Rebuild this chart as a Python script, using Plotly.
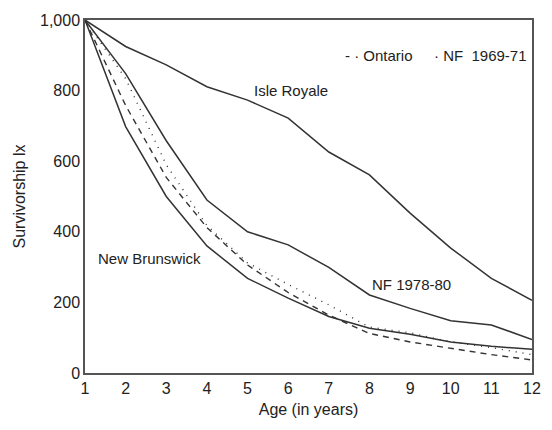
import plotly.graph_objects as go

age = [1, 2, 3, 4, 5, 6, 7, 8, 9, 10, 11, 12]
isle_royale = [1000, 925, 873, 811, 773, 722, 626, 561, 453, 354, 268, 206]
nf_1978_80 = [1000, 848, 658, 490, 400, 363, 299, 221, 183, 148, 136, 95]
nf_1969_71 = [1000, 834, 590, 418, 312, 251, 193, 130, 114, 88, 72, 52]
ontario = [1000, 758, 554, 412, 306, 228, 164, 112, 88, 70, 52, 37]
new_brunswick = [1000, 698, 500, 360, 268, 212, 160, 127, 110, 88, 76, 67]

yticks = [0, 200, 400, 600, 800, 1000]
ytext = ["0", "200", "400", "600", "800", "1,000"]

ink = "#333333"
font = "Liberation Sans, Arial, Helvetica, sans-serif"
title_font = dict(family=font, size=16, color="#222")

fig = go.Figure()
fig.add_trace(go.Scatter(x=age, y=isle_royale, mode="lines", name="Isle Royale",
                         line=dict(color=ink, width=1.5)))
fig.add_trace(go.Scatter(x=age, y=nf_1978_80, mode="lines", name="NF 1978-80",
                         line=dict(color=ink, width=1.5)))
fig.add_trace(go.Scatter(x=age, y=nf_1969_71, mode="lines", name="NF 1969-71",
                         line=dict(color=ink, width=1.4, dash="1px,6px")))
fig.add_trace(go.Scatter(x=age, y=ontario, mode="lines", name="Ontario",
                         line=dict(color=ink, width=1.4, dash="6px,5px")))
fig.add_trace(go.Scatter(x=age, y=new_brunswick, mode="lines", name="New Brunswick",
                         line=dict(color=ink, width=1.5)))

ann = dict(showarrow=False, font=dict(family=font, size=15, color="#222"))
fig.add_annotation(x=6.08, y=799, text="Isle Royale", **ann)
fig.add_annotation(x=9.03, y=252, text="NF 1978-80", **ann)
fig.add_annotation(x=2.58, y=323, text="New Brunswick", **ann)
fig.add_annotation(x=(348 - 85) / 456, y=0.929, xref="paper", yref="paper",
                   xanchor="left", text="- · Ontario", **ann)
fig.add_annotation(x=(439 - 85) / 456, y=0.929, xref="paper", yref="paper",
                   xanchor="left", text="· NF  1969-71", **ann)

fig.update_layout(
    width=552, height=430,
    margin=dict(l=85, r=11, t=20, b=57),
    paper_bgcolor="white", plot_bgcolor="white",
    showlegend=False,
    font=dict(family=font, size=16, color="#222"),
    xaxis=dict(range=[1, 12], tickvals=age, showgrid=False, zeroline=False,
               showline=True, mirror=True, linecolor="#555", linewidth=1.5,
               ticks="", tickfont=dict(family=font, size=16, color="#222"),
               title=dict(text="Age (in years)", standoff=8, font=title_font)),
    yaxis=dict(range=[0, 1000], tickvals=yticks, ticktext=ytext, showgrid=False,
               zeroline=False, showline=True, mirror=True, linecolor="#555",
               linewidth=1.5, ticks="", tickfont=dict(family=font, size=16, color="#222"),
               title=dict(text="Survivorship lx", standoff=10, font=title_font)),
)

fig.write_html("out.html")
